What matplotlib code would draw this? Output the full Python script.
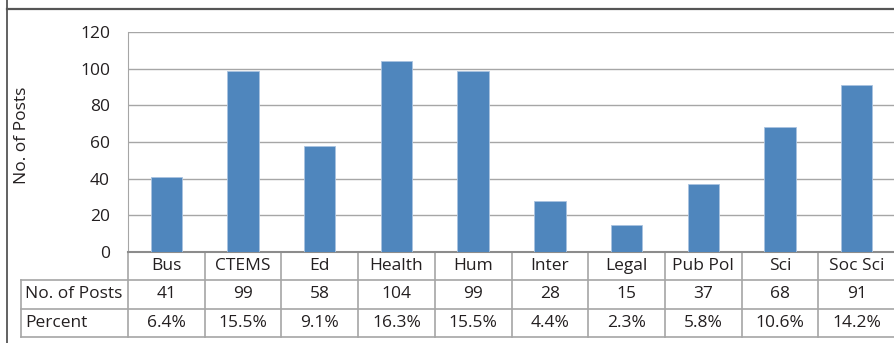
import matplotlib
matplotlib.use("Agg")
import matplotlib.pyplot as plt
from matplotlib.lines import Line2D
import matplotlib.transforms as mtransforms

categories = ["Bus", "CTEMS", "Ed", "Health", "Hum", "Inter", "Legal", "Pub Pol", "Sci", "Soc Sci"]
posts = [41, 99, 58, 104, 99, 28, 15, 37, 68, 91]
percent_labels = ["6.4%", "15.5%", "9.1%", "16.3%", "15.5%", "4.4%", "2.3%", "5.8%", "10.6%", "14.2%"]
row_labels = ["No. of Posts", "Percent"]
y_ticks = [0, 20, 40, 60, 80, 100, 120]

FONT = ["Open Sans", "DejaVu Sans"]
plt.rcParams["font.family"] = FONT
FS = 12.5
TXT = "#231f20"

W, H = 894, 343
fig = plt.figure(figsize=(W / 100, H / 100), dpi=100)
ax = fig.add_axes([128 / W, 1 - 252 / H, 767 / W, 220 / H])

x = list(range(len(categories)))
ax.bar(x, posts, width=0.41, color="#4F86BD", edgecolor="#A9C3E0", linewidth=0.6, zorder=3)
ax.set_xlim(-0.5, len(categories) - 0.5)
ax.set_ylim(0, 120)
ax.set_yticks(y_ticks)
ax.set_yticklabels([str(v) for v in y_ticks], fontsize=FS, color=TXT)
ax.tick_params(axis="y", length=0, pad=13)
ax.set_xticks([])
ax.grid(axis="y", color="#A6A6A6", linewidth=1.0, zorder=0)
for s in ["top", "right"]:
    ax.spines[s].set_visible(False)
ax.spines["left"].set_color("#A6A6A6")
ax.spines["bottom"].set_color("#8C8C8C")
ax.spines["bottom"].set_linewidth(1.5)
ax.set_ylabel("No. of Posts", fontsize=FS, color=TXT)
ax.yaxis.set_label_coords(-0.128, 0.53)

# Table below the axes
trans = mtransforms.blended_transform_factory(ax.transData, ax.transAxes)
px = 1 / 220.0
y_rows = [0.0, -28 * px, -57 * px, -85 * px]
lab_left = -0.5 - 107 / 76.7
right = len(categories) - 0.5
lc = "#A6A6A6"

def hline(x0, x1, y, **kw):
    ax.add_line(Line2D([x0, x1], [y, y], transform=trans, color=lc, lw=1.2, clip_on=False, **kw))

def vline(xv, y0, y1):
    ax.add_line(Line2D([xv, xv], [y0, y1], transform=trans, color=lc, lw=1.2, clip_on=False))

hline(lab_left, right, y_rows[1])
hline(lab_left, right, y_rows[2])
hline(lab_left, right, y_rows[3])
for i in range(len(categories) + 1):
    vline(i - 0.5, y_rows[0], y_rows[3])
vline(lab_left, y_rows[1], y_rows[3])

def ymid(k):
    return (y_rows[k] + y_rows[k + 1]) / 2

for i, c in enumerate(categories):
    ax.text(i, ymid(0), c, transform=trans, ha="center", va="center", fontsize=FS, color=TXT, clip_on=False)
    ax.text(i, ymid(1), str(posts[i]), transform=trans, ha="center", va="center", fontsize=FS, color=TXT, clip_on=False)
    ax.text(i, ymid(2), percent_labels[i], transform=trans, ha="center", va="center", fontsize=FS, color=TXT, clip_on=False)
for k, r in enumerate(row_labels):
    ax.text(lab_left + 0.05, ymid(k + 1), r, transform=trans, ha="left", va="center", fontsize=FS, color=TXT, clip_on=False)

# Outer frame fragments
fig.add_artist(Line2D([6.5 / W, 1], [1 - 9 / H, 1 - 9 / H], transform=fig.transFigure, color="#555555", lw=1.6))
fig.add_artist(Line2D([6.5 / W, 6.5 / W], [0, 1], transform=fig.transFigure, color="#555555", lw=1.3))

fig.savefig("out.png", dpi=100)
